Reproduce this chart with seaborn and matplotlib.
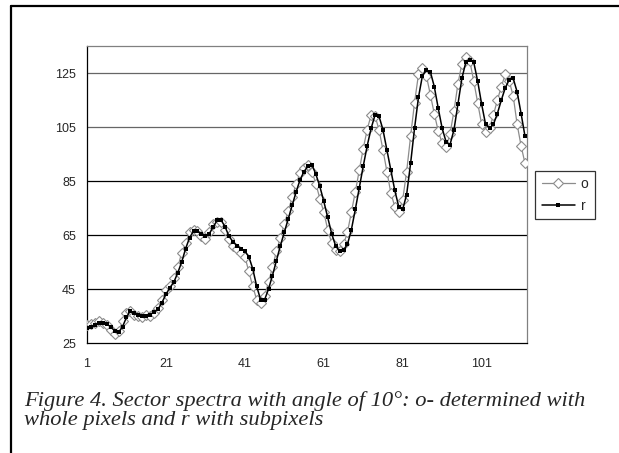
import matplotlib.pyplot as plt
import matplotlib.lines as mlines
import seaborn as sns
import pandas as pd

# values
o_vals = [31.5, 32, 32.5, 33, 32.5, 31.5, 30, 28.5, 29.5, 33,
          36, 37, 35.5, 35, 34.5, 35.5, 35, 36, 38, 41,
          44.5, 46, 49, 53, 58.5, 62, 66, 67, 66.5, 64.5,
          63.5, 66, 69, 70, 70, 67, 63.5, 61, 60, 58.5,
          57, 51.5, 46, 41, 40, 42.5, 47.5, 53, 59, 64,
          69, 74, 79, 84, 88, 90, 91, 88.5, 84, 78.5,
          73.5, 67, 62, 59.5, 59, 61.5, 66, 73.5, 81, 89,
          97, 104, 109.5, 109, 104, 96.5, 88.5, 80.5, 75.5, 73.5,
          78, 88.5, 101.5, 114, 124.5, 127, 124, 117, 110, 103.5,
          99, 97.5, 102.5, 111, 121, 128.5, 131, 129.5, 122, 114,
          106, 103, 104.5, 109.5, 115, 120, 124.5, 122, 116.5, 106,
          98, 91.5]

r_vals = [30.5, 31, 31.5, 32.5, 32.5, 32, 31, 29.5, 29, 31,
          34.5, 37, 36, 35.5, 35, 35, 35.5, 36.5, 37.5, 40,
          43, 45.5, 47.5, 51, 55, 60, 64, 66.5, 66.5, 65.5,
          64.5, 65.5, 68, 70.5, 70.5, 68, 64.5, 62.5, 61, 60,
          59, 57, 52.5, 46, 41, 41, 45, 50, 55.5, 61,
          66, 71, 76, 81, 85.5, 88.5, 90.5, 91, 87.5, 83,
          77.5, 71.5, 65.5, 61, 59, 59.5, 61.5, 67, 74.5, 82.5,
          90.5, 98, 104.5, 109.5, 109, 104, 96.5, 89, 81.5, 75.5,
          74.5, 80, 91.5, 104.5, 116, 124, 126, 125.5, 120, 112,
          104.5, 99.5, 98.5, 104, 113.5, 123, 129, 130, 129, 122,
          113.5, 106, 104.5, 106, 110, 115, 119.5, 122.5, 123, 118,
          110, 101.5]

index = list(range(1, len(o_vals) + 1))
y_ticks = [25, 45, 65, 85, 105, 125]
x_labels = [1, 21, 41, 61, 81, 101]

caption_1 = "Figure 4. Sector spectra with angle of 10\u00b0: o- determined with"
caption_2 = "whole pixels and r with subpixels"

df = pd.DataFrame({"idx": index, "o": o_vals, "r": r_vals})

sns.set_style("white")
plt.rcParams["font.family"] = ["Liberation Sans", "DejaVu Sans"]

fig = plt.figure(figsize=(6.19, 4.53), dpi=100)
ax = fig.add_axes([87 / 619, 1 - 343 / 453, 440 / 619, 297 / 453])

for t in y_ticks[1:]:
    ax.axhline(t, color="black" if t < 100 else "#666666", lw=0.9, zorder=1)

sns.lineplot(data=df, x="idx", y="o", ax=ax, color="#8c8c8c", lw=0.9,
             marker="D", markersize=5.4, markerfacecolor="white",
             markeredgecolor="#8c8c8c", markeredgewidth=0.8, zorder=3)
sns.lineplot(data=df, x="idx", y="r", ax=ax, color="black", lw=1.1,
             marker="s", markersize=2.2, markerfacecolor="black",
             markeredgecolor="black", markeredgewidth=0, zorder=4)

ax.set_xlim(1, 112.5)
ax.set_ylim(25, 135)
ax.set_yticks(y_ticks)
ax.set_yticklabels([str(v) for v in y_ticks], fontsize=9)
ax.set_xticks(list(range(1, 113, 10)))
ax.set_xticklabels([str(v) if v in x_labels else "" for v in range(1, 113, 10)],
                   fontsize=9)
ax.tick_params(axis="both", direction="out", length=4, width=0.9,
               color="black", pad=4)
ax.tick_params(axis="x", pad=7)
ax.set_xlabel("")
ax.set_ylabel("")

ax.spines["left"].set_color("black")
ax.spines["bottom"].set_color("black")
ax.spines["top"].set_color("#808080")
ax.spines["right"].set_color("#808080")
for s in ax.spines.values():
    s.set_linewidth(0.9)

h_o = mlines.Line2D([], [], color="#8c8c8c", lw=0.9, marker="D", markersize=5.4,
                    markerfacecolor="white", markeredgecolor="#8c8c8c",
                    markeredgewidth=0.8)
h_r = mlines.Line2D([], [], color="black", lw=1.1, marker="s", markersize=2.2,
                    markerfacecolor="black", markeredgewidth=0)
leg = fig.legend([h_o, h_r], ["o", "r"], loc="center",
                 bbox_to_anchor=(565 / 619, 1 - 195 / 453), fontsize=10,
                 frameon=True, fancybox=False, edgecolor="black",
                 handlelength=2.4, handletextpad=0.4, borderpad=0.45,
                 labelspacing=0.6, borderaxespad=0)
leg.get_frame().set_linewidth(0.9)

fig.text(24 / 619, 1 - 401 / 453, caption_1, family="Liberation Serif",
         style="italic", fontsize=16.2, va="center", ha="left")
fig.text(24 / 619, 1 - 421 / 453, caption_2, family="Liberation Serif",
         style="italic", fontsize=16.2, va="center", ha="left")

# page frame (top and left edges)
fig.add_artist(mlines.Line2D([11 / 619, 11 / 619], [0, 1 - 5.5 / 453],
                             color="black", lw=1.6, transform=fig.transFigure))
fig.add_artist(mlines.Line2D([11 / 619, 1], [1 - 5.5 / 453, 1 - 5.5 / 453],
                             color="black", lw=1.6, transform=fig.transFigure))

plt.savefig("out.png", dpi=100)
plt.close()
